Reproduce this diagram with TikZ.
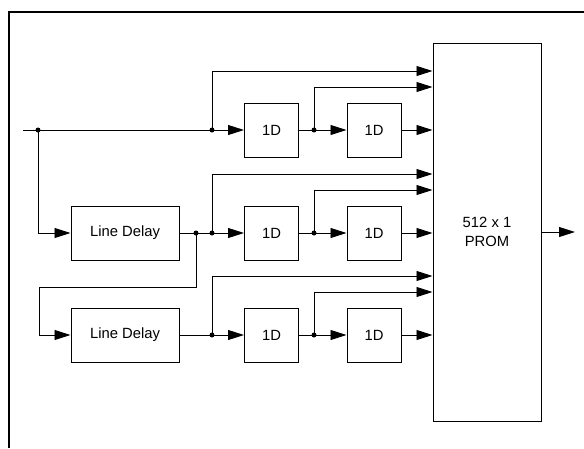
\documentclass[tikz,border=0pt]{standalone}
\usepackage{fontspec}
\setmainfont{Liberation Sans}
\usetikzlibrary{arrows.meta}

\tikzset{
  blk/.style={draw, line width=1pt, inner sep=0pt, minimum height=54pt,
    font=\fontsize{14.8}{19}\selectfont},
  dly/.style={blk, minimum width=108pt},
  unit/.style={blk, minimum width=54pt},
  prom/.style={blk, minimum width=108pt, minimum height=378pt, align=center},
  wire/.style={line width=0.9pt},
  sig/.style={wire, -{Triangle[length=16pt,width=10pt]}},
  dot/.style={circle, fill, inner sep=0pt, minimum size=5pt}
}

\begin{document}
\begin{tikzpicture}[x=1pt,y=-1pt]
  \useasboundingbox (0,0) rectangle (584,448);
  \draw[line width=2.2pt] (9,448) -- (9,12) -- (584,12);

  \node[prom] (prom) at (487,232) {512 x 1\\PROM};
  \node[dly] (ld1) at (125,233) {Line Delay};
  \node[dly] (ld2) at (125,335) {Line Delay};

  % three rows of 1D taps into the PROM
  \foreach \r/\y in {1/130,2/233,3/335} {
    \node[unit] (da\r) at (271.5,\y) {1D};
    \node[unit] (db\r) at (374,\y) {1D};
    \coordinate (ta\r) at (212,\y);
    \coordinate (tb\r) at (314,\y);
    \coordinate (ua\r) at (212,{\y-59});
    \coordinate (ub\r) at (314,{\y-43});
    \draw[sig] (ta\r) -- (da\r);
    \draw[sig] (ta\r) |- (prom.west |- ua\r);
    \draw[wire] (da\r) -- (tb\r);
    \draw[sig] (tb\r) -- (db\r);
    \draw[sig] (tb\r) |- (prom.west |- ub\r);
    \draw[sig] (db\r) -- (prom.west |- db\r);
    \node[dot] at (ta\r) {};
    \node[dot] at (tb\r) {};
  }

  \coordinate (in) at (23,130);
  \coordinate (s1) at (38,130);
  \coordinate (s2) at (196,233);
  \coordinate (bend) at (39,287);
  \coordinate (out) at (575,232);

  \draw[wire] (in) -- (ta1);
  \draw[sig] (s1) |- (ld1.west);
  \draw[wire] (ld1) -- (ta2);
  \draw[sig] (s2) |- (bend) |- (ld2.west);
  \draw[wire] (ld2) -- (ta3);
  \draw[sig] (prom) -- (out);
  \node[dot] at (s1) {};
  \node[dot] at (s2) {};
\end{tikzpicture}
\end{document}
